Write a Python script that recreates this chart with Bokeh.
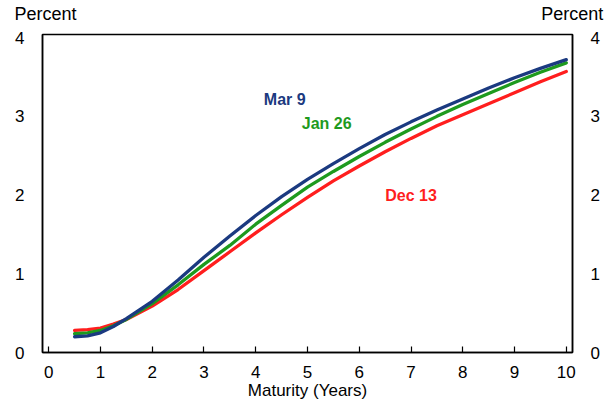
from bokeh.plotting import figure
from bokeh.models import Range1d, LinearAxis, FixedTicker, Label, CustomJSTickFormatter
from bokeh.embed import file_html
from bokeh.resources import INLINE

maturity = [0.5, 0.75, 1, 1.25, 1.5, 2, 2.5, 3, 3.5, 4, 4.5, 5, 5.5, 6, 6.5, 7, 7.5, 8, 8.5, 9, 9.5, 10]
mar9 = [0.20, 0.21, 0.25, 0.33, 0.43, 0.65, 0.92, 1.21, 1.48, 1.74, 1.98, 2.20, 2.40, 2.59,
        2.77, 2.93, 3.08, 3.22, 3.36, 3.49, 3.61, 3.72]
jan26 = [0.24, 0.25, 0.28, 0.34, 0.42, 0.62, 0.86, 1.12, 1.36, 1.63, 1.87, 2.10, 2.30, 2.49,
         2.67, 2.84, 3.00, 3.15, 3.29, 3.43, 3.56, 3.68]
dec13 = [0.28, 0.29, 0.31, 0.36, 0.42, 0.59, 0.80, 1.04, 1.28, 1.52, 1.75, 1.97, 2.18, 2.37,
         2.55, 2.72, 2.88, 3.02, 3.16, 3.30, 3.44, 3.57]
series_names = ["Dec 13", "Jan 26", "Mar 9"]
colors = {"Mar 9": "#1B3A80", "Jan 26": "#1E9A1E", "Dec 13": "#FF1E1E"}
x_ticks = list(range(0, 11))
y_ticks = [0, 1, 2, 3, 4]
unit_title = "Percent"

FONT = "Liberation Sans, Arial"

p = figure(width=605, height=404, output_backend="svg", toolbar_location=None,
           x_range=Range1d(-0.12, 10.12), y_range=Range1d(0, 4.04),
           min_border_left=42, min_border_right=33, min_border_top=33, min_border_bottom=52,
           y_axis_location=None)
p.grid.visible = False
p.outline_line_color = "black"
p.outline_line_width = 1.5
p.background_fill_color = "white"
p.border_fill_color = "white"

data = {"Mar 9": mar9, "Jan 26": jan26, "Dec 13": dec13}
for name in series_names:
    p.line(maturity, data[name], line_color=colors[name], line_width=3.3,
           line_join="round", line_cap="round")

xa = p.xaxis[0]
xa.ticker = FixedTicker(ticks=x_ticks)
xa.major_tick_in = 6
xa.major_tick_out = 0
xa.minor_tick_line_color = None
xa.axis_line_color = "black"
xa.axis_line_width = 1.5
xa.major_tick_line_color = "black"
xa.major_tick_line_width = 1.2
xa.major_label_text_font = FONT
xa.major_label_text_font_size = "17px"
xa.major_label_text_color = "black"
xa.major_label_standoff = 13
xa.axis_label = "Maturity (Years)"
xa.axis_label_text_font = FONT
xa.axis_label_text_font_style = "normal"
xa.axis_label_text_font_size = "17px"
xa.axis_label_text_color = "black"
xa.axis_label_standoff = 0

for loc in ("left", "right"):
    ya = LinearAxis(ticker=FixedTicker(ticks=y_ticks))
    ya.major_tick_line_color = None
    ya.minor_tick_line_color = None
    ya.axis_line_color = "black"
    ya.axis_line_width = 1.5
    ya.major_label_text_font = FONT
    ya.major_label_text_font_size = "17px"
    ya.major_label_text_color = "black"
    ya.major_label_standoff = 12
    p.add_layout(ya, loc)

# "Percent" unit titles above both value axes
top = LinearAxis(ticker=FixedTicker(ticks=[-0.062, 10.115]),
                 formatter=CustomJSTickFormatter(code="return '%s';" % unit_title))
top.axis_line_color = None
top.major_tick_line_color = None
top.minor_tick_line_color = None
top.major_tick_out = 0
top.major_tick_in = 0
top.major_label_standoff = 11
top.major_label_text_font = FONT
top.major_label_text_font_size = "18px"
top.major_label_text_color = "black"
p.add_layout(top, "above")

label_pos = {"Mar 9": (4.56, 3.22), "Jan 26": (5.37, 2.91), "Dec 13": (7.0, 2.0)}
for name in series_names:
    lx, ly = label_pos[name]
    p.add_layout(Label(x=lx, y=ly, text=name, text_align="center", text_baseline="middle",
                       text_font=FONT, text_font_size="16px", text_font_style="bold",
                       text_color=colors[name]))

open("out.html", "w").write(file_html(p, INLINE))
